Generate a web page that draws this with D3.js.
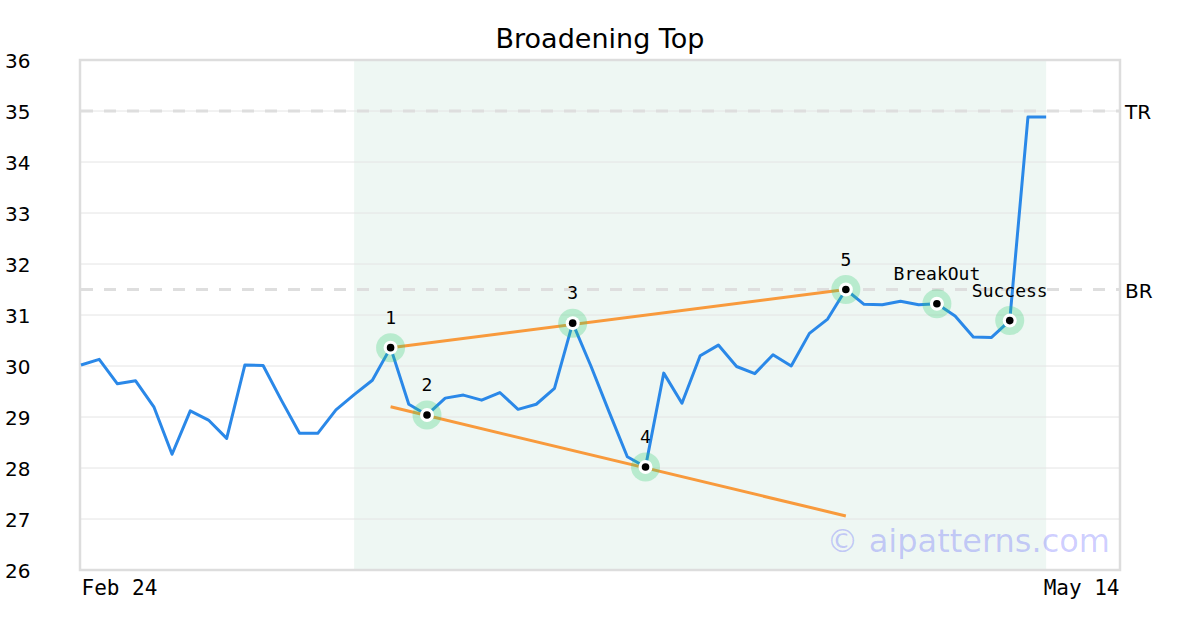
<!DOCTYPE html>
<html>
<head>
<meta charset="utf-8">
<script src="https://cdn.jsdelivr.net/npm/d3@7"></script>
<style>
  html, body { margin: 0; padding: 0; background: #fff; }
  svg { display: block; }
</style>
</head>
<body>
<svg id="chart" width="1200" height="630"></svg>
<script>
// ---- data ----
const prices = [
  30.02, 30.13, 29.65, 29.71, 29.20, 28.27, 29.12, 28.94, 28.58, 30.02,
  30.01, 29.33, 28.68, 28.68, 29.14, 29.44, 29.72, 30.36, 29.25, 29.04,
  29.37, 29.43, 29.33, 29.48, 29.15, 29.25, 29.56, 30.84, 30.00, 29.10,
  28.22, 28.02, 29.86, 29.27, 30.20, 30.41, 29.99, 29.85, 30.22, 30.00,
  30.64, 30.92, 31.50, 31.21, 31.20, 31.27, 31.20, 31.22, 30.98, 30.57,
  30.56, 30.89, 34.88, 34.88
];
const xTickLabels = ["Feb 24", "May 14"];
const xDomainEnd = 57;
const yTicks = [26, 27, 28, 29, 30, 31, 32, 33, 34, 35, 36];
const patternRange = [15, 53];            // shaded pattern window (indices)
const upperTrend = [[17, 30.36], [42, 31.50]];
const lowerTrend = [[17, 29.20], [42, 27.06]];
const markerIdx = [17, 19, 27, 31, 42, 47, 51];
const markerLabels = ["1", "2", "3", "4", "5", "BreakOut", "Success"];
const levelNames = ["TR", "BR"];
const levelValues = [35, 31.5];
const title = "Broadening Top";
const watermark = "\u00A9 aipatterns.com";

// ---- layout ----
const svg = d3.select("#chart");
const L = 81, R = 1119, T = 60, B = 570;
const x = d3.scaleLinear().domain([0, xDomainEnd]).range([L, R]);
const y = d3.scaleLinear().domain([26, 36]).range([B, T]);
const mono = "'DejaVu Sans Mono', monospace";
const sans = "'DejaVu Sans', sans-serif";

// title
svg.append("text").attr("x", 600).attr("y", 48).attr("text-anchor", "middle")
  .style("font-family", sans).style("font-size", "27px").attr("fill", "#000").text(title);

// shaded window
svg.append("rect")
  .attr("x", x(patternRange[0])).attr("y", T)
  .attr("width", x(patternRange[1]) - x(patternRange[0])).attr("height", B - T)
  .attr("fill", "#eef7f3");

// gridlines
svg.append("g").selectAll("line").data(yTicks).join("line")
  .attr("x1", L).attr("x2", R).attr("y1", d => y(d)).attr("y2", d => y(d))
  .attr("stroke", "#e4e4e4").attr("stroke-width", 1);

// level dashed lines
svg.append("g").selectAll("line").data(levelValues).join("line")
  .attr("x1", L).attr("x2", R).attr("y1", d => y(d)).attr("y2", d => y(d))
  .attr("stroke", "#dedede").attr("stroke-width", 3).attr("stroke-dasharray", "12,11");
svg.append("g").selectAll("text").data(levelValues).join("text")
  .attr("x", 1125).attr("y", d => y(d) + 8)
  .style("font-family", sans).style("font-size", "20px").attr("fill", "#000")
  .text((d, i) => levelNames[i]);

// y axis (labels only)
const yAxis = d3.axisLeft(y).tickValues(yTicks).tickSize(0).tickFormat(d3.format("d"));
const gy = svg.append("g").attr("transform", `translate(${L},0)`).call(yAxis);
gy.select(".domain").remove();
gy.selectAll("text").attr("x", 5 - L).attr("dy", "0.35em").attr("text-anchor", "start")
  .style("font-family", sans).style("font-size", "20px").attr("fill", "#000");

// x axis (labels only)
const xAxis = d3.axisBottom(x).tickValues([0, xDomainEnd]).tickSize(0)
  .tickFormat((d, i) => xTickLabels[i]);
const gx = svg.append("g").attr("transform", `translate(0,${B})`).call(xAxis);
gx.select(".domain").remove();
gx.selectAll("text").attr("y", 25).attr("dy", 0)
  .attr("text-anchor", (d, i) => i === 0 ? "start" : "end")
  .style("font-family", mono).style("font-size", "21px").attr("fill", "#000");

// plot frame
svg.append("rect").attr("x", 80).attr("y", 60).attr("width", 1040).attr("height", 510)
  .attr("fill", "none").attr("stroke", "#dddddd").attr("stroke-width", 2.5);

// watermark
svg.append("text").attr("x", 1110).attr("y", 552).attr("text-anchor", "end")
  .style("font-family", sans).style("font-size", "32px").attr("fill", "rgba(0,0,255,0.2)")
  .text(watermark);

// price line
const line = d3.line().x((d, i) => x(i)).y(d => y(d));
svg.append("path").datum(prices).attr("d", line)
  .attr("fill", "none").attr("stroke", "#2a88e8").attr("stroke-width", 3)
  .attr("stroke-linejoin", "round");

// trend lines
const tline = d3.line().x(d => x(d[0])).y(d => y(d[1]));
[upperTrend, lowerTrend].forEach(t => {
  svg.append("path").datum(t).attr("d", tline)
    .attr("fill", "none").attr("stroke", "#f89a3c").attr("stroke-width", 3);
});

// markers
const mk = svg.append("g").selectAll("g").data(markerIdx).join("g")
  .attr("transform", d => `translate(${x(d)},${y(prices[d])})`);
mk.append("circle").attr("r", 14.5).attr("fill", "rgba(46,204,113,0.28)");
mk.append("circle").attr("r", 7).attr("fill", "#fff");
mk.append("circle").attr("r", 3.8).attr("fill", "#000");
mk.append("text").attr("y", -24).attr("text-anchor", "middle")
  .style("font-family", mono).style("font-size", "18px").attr("fill", "#000")
  .text((d, i) => markerLabels[i]);
</script>
</body>
</html>
